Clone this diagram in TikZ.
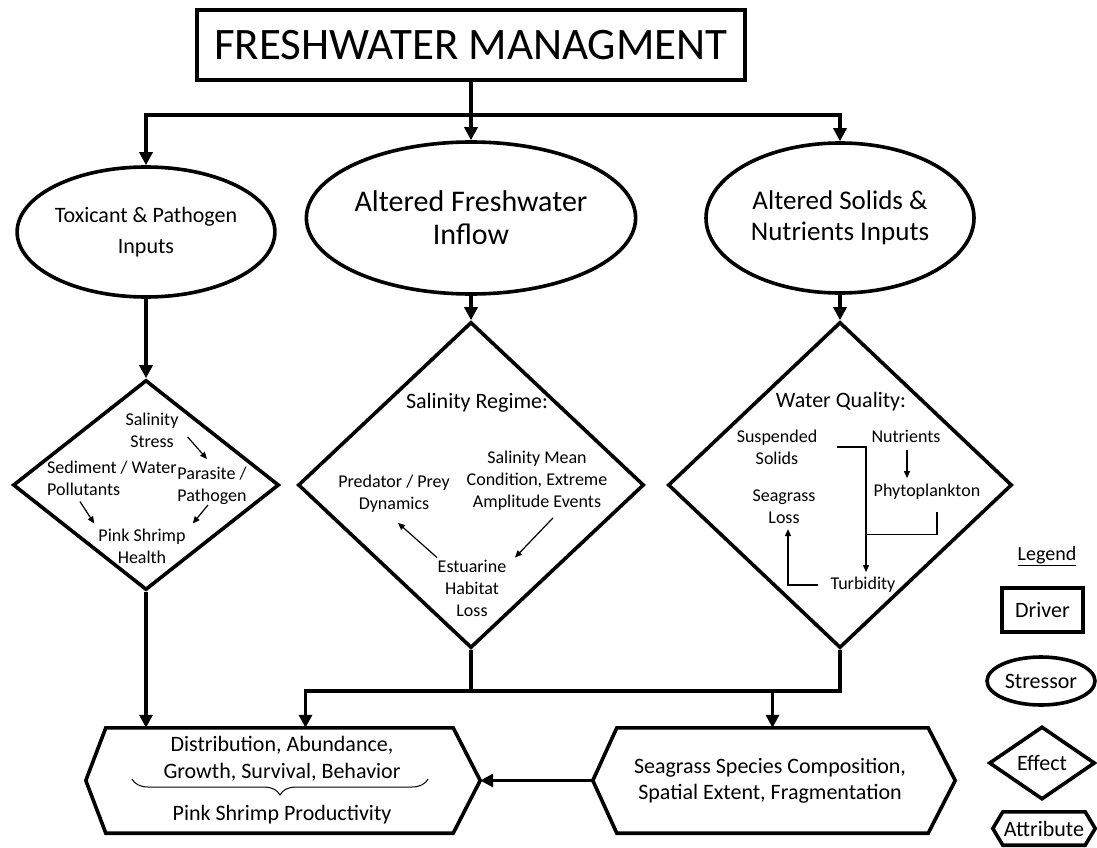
\documentclass[tikz,border=0pt]{standalone}
\usepackage{fontspec}
\setmainfont{Carlito}
\usetikzlibrary{arrows.meta,calc,shapes.geometric,decorations.pathreplacing}
\tikzset{
  driver/.style={draw, line width=3.6pt, minimum width=548pt, minimum height=70pt, inner sep=0pt, font=\fontsize{45}{50}\selectfont},
  stressor/.style={draw, ellipse, line width=3.6pt, inner sep=0pt, align=center, font=\fontsize{27}{31}\selectfont},
  effect/.style={draw, diamond, line width=3.6pt, inner sep=1pt},
  attr/.style={inner sep=0pt, align=center, font=\fontsize{22}{27}\selectfont},
  outline/.style={line width=3.6pt, line join=miter},
  trunk/.style={line width=3.6pt},
  link/.style={line width=3.6pt, -{Triangle[length=13pt, width=13pt]}},
  minor/.style={line width=1.2pt, -{Triangle[length=7pt, width=6pt]}},
  minorline/.style={line width=1.2pt},
  lbl/.style={font=\fontsize{18}{22}\selectfont, align=center, inner sep=2pt},
  dhead/.style={font=\fontsize{22}{26}\selectfont, inner sep=2pt},
  legendtxt/.style={font=\fontsize{22}{26}\selectfont},
  brace/.style={line width=1pt, decorate, decoration={brace, mirror, amplitude=16pt}},
}

\begin{document}
\begin{tikzpicture}[x=1pt, y=-1pt]
  \useasboundingbox (0,0) rectangle (1097,848);
  % driver
  \node[driver] (mgmt) at (471,45) {FRESHWATER MANAGMENT};
  % stressors
  \node[stressor, minimum width=220pt, minimum height=130pt, font=\fontsize{22}{31}\selectfont] (tox) at (146,232) {Toxicant \& Pathogen\\Inputs};
  \node[stressor, minimum width=278pt, minimum height=152pt, font=\fontsize{30}{33}\selectfont] (fresh) at (471,218) {Altered Freshwater\\Inflow};
  \node[stressor, minimum width=268pt, minimum height=150pt] (solid) at (840,218) {Altered Solids \&\\Nutrients Inputs};
  \draw[trunk] (mgmt.south) -- ++(0,33) coordinate (split);
  \draw[link] (split) -| (tox.north);
  \draw[link] (split) -| (solid.north);
  \draw[link] (split) -- (fresh.north);
  % effects
  \node[effect, minimum width=266pt, minimum height=210pt] (dtox) at (146,485) {};
  \node[effect, minimum width=346pt, minimum height=326pt] (dfresh) at (471,485) {};
  \node[effect, minimum width=344pt, minimum height=326pt] (dsolid) at (840,485) {};
  \draw[link] (tox.south) -- (dtox.north);
  \draw[link] (fresh.south) -- (dfresh.north);
  \draw[link] (solid.south) -- (dsolid.north);
  % inside toxicant diamond
  \node[lbl] (stress) at (152,430) {Salinity\\Stress};
  \node[lbl, align=left, anchor=west] (sed) at (45,478) {Sediment / Water\\Pollutants};
  \node[lbl] (para) at (212,486) {Parasite /\\Pathogen};
  \node[lbl] (health) at (142,546) {Pink Shrimp\\Health};
  \draw[minor] ($(stress.east)+(7,7)$) -- ($(para.north)+(-5,-6)$);
  \draw[minor] ($(sed.south)+(-32,4)$) -- ($(health.north west)+(-2,-3)$);
  \draw[minor] ($(para.south)+(-4,-2)$) -- ($(health.north east)+(5,-3)$);
  % inside salinity diamond
  \node[dhead] (regime) at (477,403) {Salinity Regime:};
  \node[lbl] (pred) at (394,494) {Predator / Prey\\Dynamics};
  \node[lbl] (mean) at (537,481) {Salinity Mean\\Condition, Extreme\\Amplitude Events};
  \node[lbl] (estu) at (472,588) {Estuarine\\Habitat\\Loss};
  \draw[minor] ($(mean.south)+(16,5)$) -- ($(estu.north)+(43,0)$);
  \draw[minor] ($(estu.north)+(-35,0)$) -- ($(pred.south)+(4,8)$);
  % inside water quality diamond
  \node[dhead] (wq) at (841,402) {Water Quality:};
  \node[lbl] (solids) at (777,447) {Suspended\\Solids};
  \node[lbl] (nutr) at (906,436) {Nutrients};
  \node[lbl] (phyto) at (927,492) {Phytoplankton};
  \node[lbl] (sgloss) at (784,507) {Seagrass\\Loss};
  \node[lbl] (turb) at (863,585) {Turbidity};
  \coordinate (junc) at ($(turb.north)+(3,-41)$);
  \draw[minor] ($(nutr.south)+(1,6)$) -- ($(phyto.north -| nutr.south)+(1,-4)$);
  \draw[minor] ($(solids.east)+(18,0)$) -| ($(turb.north)+(3,-3)$);
  \draw[minorline] ($(phyto.south)+(10,10)$) |- (junc);
  \draw[minor] ($(turb.west)+(-10,0)$) -| ($(sgloss.south)+(4,3)$);
  % attributes
  \node[minimum width=347pt, minimum height=105pt] (shrimp) at (279.5,780.5) {};
  \draw[outline] (shrimp.north west) -- (shrimp.north east) -- ($(shrimp.east)+(27,0)$) coordinate (shrimp-e)
    -- (shrimp.south east) -- (shrimp.south west) -- ($(shrimp.west)+(-20,0)$) -- cycle;
  \node[minimum width=311pt, minimum height=105pt] (grass) at (772.5,780.5) {};
  \draw[outline] (grass.north west) -- (grass.north east) -- ($(grass.east)+(27,0)$)
    -- (grass.south east) -- (grass.south west) -- ($(grass.west)+(-24,0)$) coordinate (grass-w) -- cycle;
  \node[attr] (traits) at (282,758.5) {Distribution, Abundance,\\Growth, Survival, Behavior};
  \draw[brace] (132,779) -- (428,779);
  \node[attr] (prod) at (282,815) {Pink Shrimp Productivity};
  \node[attr, font=\fontsize{22}{26}\selectfont] (grasstxt) at (770,781) {Seagrass Species Composition,\\Spatial Extent, Fragmentation};
  % effects to attributes
  \coordinate (merge) at ($(dfresh.south)+(0,41)$);
  \coordinate (shrimp-in) at ($(shrimp.north)+(26,0)$);
  \draw[link] (dtox.south) -- (dtox.south |- shrimp.north);
  \draw[trunk] (dfresh.south) -- (merge);
  \draw[link] (dsolid.south) |- (shrimp-in |- merge) -- (shrimp-in);
  \draw[link] (grass.north |- merge) -- (grass.north);
  \draw[link] (grass-w) -- (shrimp-e);
  % legend
  \node[font=\fontsize{20}{24}\selectfont] (legend) at (1047,556) {\underline{Legend}};
  \node[draw, line width=3.6pt, minimum width=81pt, minimum height=44pt, legendtxt] (keydriver) at (1042.5,610) {Driver};
  \node[stressor, minimum width=108pt, minimum height=48pt, legendtxt] (keystressor) at (1041,681) {Stressor};
  \node[effect, minimum width=106pt, minimum height=73pt, legendtxt] (keyeffect) at (1042,763) {Effect};
  \node[legendtxt, inner sep=0pt, minimum width=82pt, minimum height=33pt] (keyattr) at (1044,828.5) {Attribute};
  \draw[outline] (keyattr.north west) -- (keyattr.north east) -- ($(keyattr.east)+(10,0)$)
    -- (keyattr.south east) -- (keyattr.south west) -- ($(keyattr.west)+(-10,0)$) -- cycle;
\end{tikzpicture}
\end{document}
